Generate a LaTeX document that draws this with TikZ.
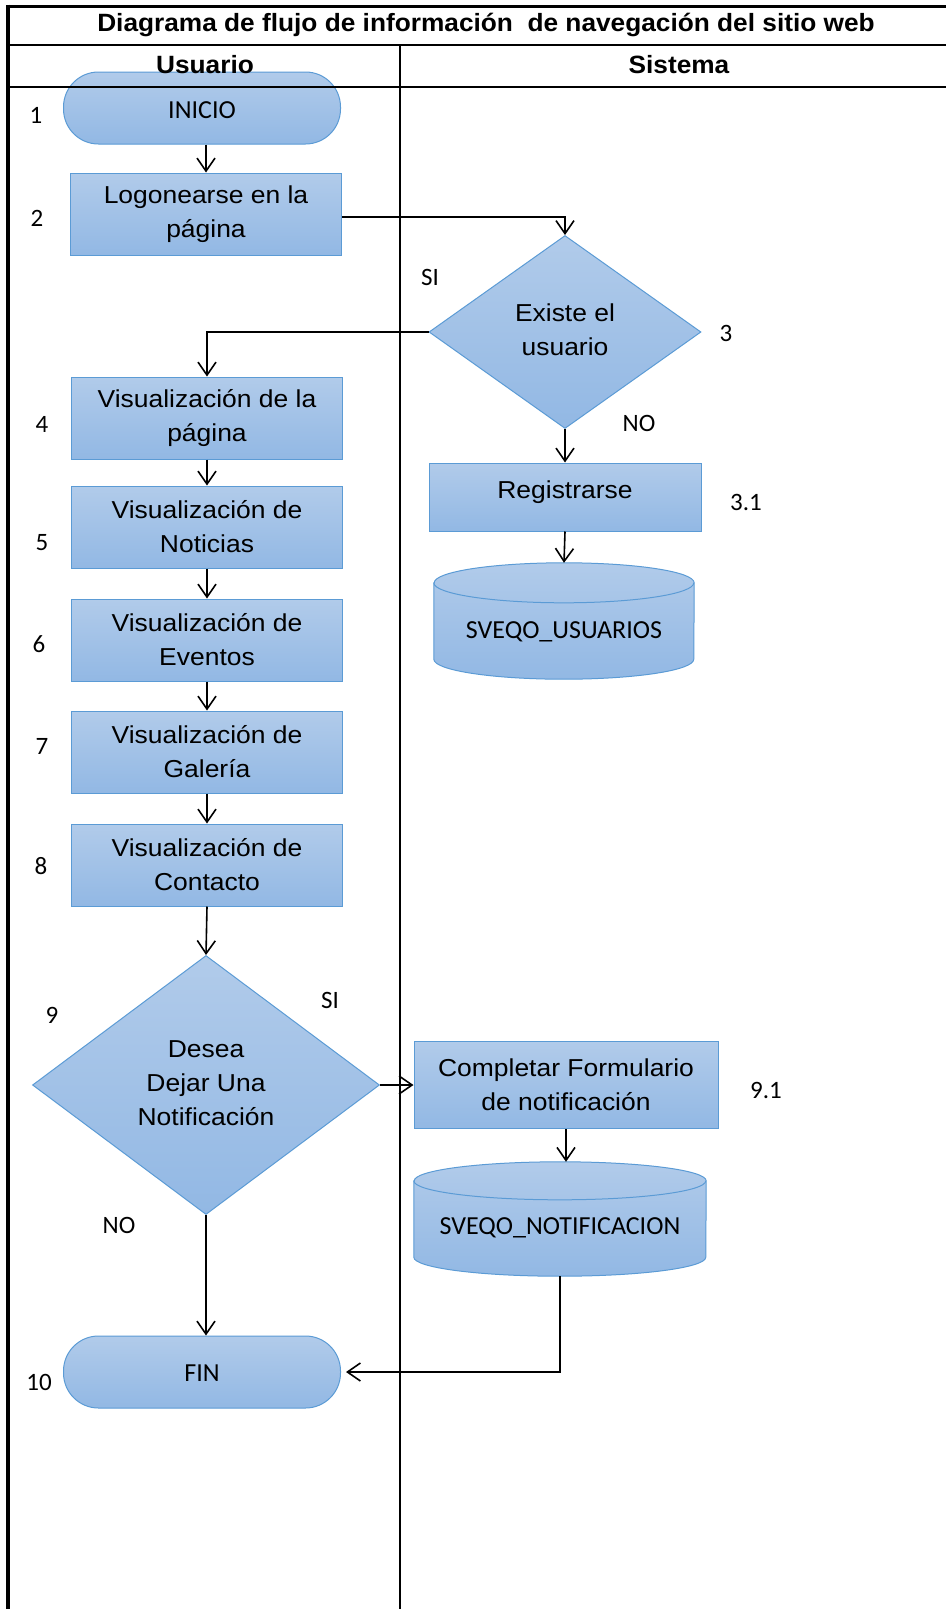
\documentclass[tikz,border=0pt]{standalone}
\usepackage{fontspec}
\usetikzlibrary{arrows.meta,shapes.geometric,calc,backgrounds}
\newfontfamily\arialf[FakeStretch=1.08]{Liberation Sans}
\newfontfamily\titlef[FakeStretch=1.05]{Liberation Sans}
\newfontfamily\calf{Carlito}
\definecolor{topc}{RGB}{177,203,234}
\definecolor{botc}{RGB}{146,184,228}
\definecolor{bordc}{RGB}{91,155,213}
\tikzset{
  proc/.style={draw=bordc, line width=1pt, top color=topc, bottom color=botc,
    minimum width=271pt, minimum height=82pt, align=center, inner sep=0pt,
    font=\arialf\fontsize{24.5}{34}\selectfont},
  term/.style={proc, rounded corners=35pt, minimum width=277pt, minimum height=72pt,
    font=\calf\fontsize{26}{30}\selectfont},
  dec/.style={diamond, draw=bordc, line width=1pt, top color=topc, bottom color=botc,
    inner sep=0pt, font=\arialf\fontsize{24.5}{34}\selectfont},
  dbtext/.style={minimum width=#1, inner sep=0pt, font=\calf\fontsize{26}{30}\selectfont},
  lbl/.style={font=\calf\fontsize{25}{30}\selectfont, inner sep=0pt},
  hdr/.style={font=\titlef\bfseries\fontsize{25}{30}\selectfont, inner sep=0pt},
  conn/.style={line width=1.6pt, -{Straight Barb[length=13pt,width=18pt]}},
  thinconn/.style={line width=1.1pt, -{Straight Barb[length=13pt,width=18pt,line width=1.6pt]}},
  cyl/.style={draw=bordc, line width=1pt, top color=topc, bottom color=botc},
}
\begin{document}
\begin{tikzpicture}[x=1pt,y=1pt]
\useasboundingbox (0,0) rectangle (946,-1609);
\begin{scope}[on background layer]
  \fill[white] (0,0) rectangle (946,-1609);
\end{scope}

% user lane
\node[term] (n1) at (202,-108) {\raisebox{-10.5pt}[0pt][0pt]{INICIO}};
\node[proc] (n2) at (206,-214) {Logonearse en la\\página};
\node[proc] (n4) at (207,-418) {Visualización de la\\página};
\node[proc] (n5) at (207,-527) {Visualización de\\Noticias};
\node[proc] (n6) at (207,-640) {Visualización de\\Eventos};
\node[proc] (n7) at (207,-752) {Visualización de\\Galería};
\node[proc] (n8) at (207,-865) {Visualización de\\Contacto};
\node[dec, aspect=1.34, minimum width=347pt, minimum height=259pt] (n9) at (206,-1085)
  {\raisebox{9pt}{\begin{tabular}{@{}c@{}}Desea\\Dejar Una\\Notificación\end{tabular}}};
\node[term] (n10) at (202,-1372) {\raisebox{-9.5pt}[0pt][0pt]{FIN}};

% system lane
\node[dec, aspect=1.41, minimum width=272pt, minimum height=193pt] (n3) at (565,-332)
  {\raisebox{8pt}{\begin{tabular}{@{}c@{}}Existe el\\usuario\end{tabular}}};
\node[proc, minimum width=272pt, minimum height=68pt] (n31) at (565,-497) {\raisebox{-1pt}[0pt][0pt]{Registrarse}};
\node[dbtext=260pt, minimum height=116pt] (db1) at (564,-621) {};
\node[proc, minimum width=304pt, minimum height=87pt] (n91) at (566,-1085) {Completar Formulario\\de notificación};
\node[dbtext=292pt, minimum height=114pt] (db2) at (560,-1219) {};

% cylinders
\begin{scope}[on background layer]
  \shadedraw[cyl] ($(db1.north west)+(0,-20)$) -- ($(db1.south west)+(0,20)$)
     arc[start angle=180,end angle=360,x radius=130pt,y radius=20pt]
     -- ($(db1.north east)+(0,-20)$)
     arc[start angle=0,end angle=180,x radius=130pt,y radius=20pt] -- cycle;
  \draw[bordc, line width=1pt] ($(db1.north west)+(0,-20)$)
     arc[start angle=180,end angle=360,x radius=130pt,y radius=20pt];
  \shadedraw[cyl] ($(db2.north west)+(0,-19)$) -- ($(db2.south west)+(0,19)$)
     arc[start angle=180,end angle=360,x radius=146pt,y radius=19pt]
     -- ($(db2.north east)+(0,-19)$)
     arc[start angle=0,end angle=180,x radius=146pt,y radius=19pt] -- cycle;
  \draw[bordc, line width=1pt] ($(db2.north west)+(0,-19)$)
     arc[start angle=180,end angle=360,x radius=146pt,y radius=19pt];
\end{scope}
\node[dbtext=260pt] (t1) at ($(db1.center)+(0,-11)$) {SVEQO\_USUARIOS};
\node[dbtext=292pt] (t2) at ($(db2.center)+(0,-9)$) {SVEQO\_NOTIFICACION};

% step labels
\node[lbl] (l1) at (36,-115) {1};
\node[lbl] (l2) at (37,-218) {2};
\node[lbl] (l3) at (726,-333) {3};
\node[lbl] (l31) at (746,-502) {3.1};
\node[lbl] (l4) at (42,-424) {4};
\node[lbl] (l5) at (42,-543) {5};
\node[lbl] (l6) at (39,-644) {6};
\node[lbl] (l7) at (42,-746) {7};
\node[lbl] (l8) at (41,-866) {8};
\node[lbl] (l9) at (52,-1015) {9};
\node[lbl] (l91) at (766,-1090) {9.1};
\node[lbl] (l10) at (39,-1382) {10};
\node[lbl] (si1) at (430,-277) {SI};
\node[lbl] (no1) at (639,-423) {NO};
\node[lbl] (si2) at (330,-1000) {SI};
\node[lbl] (no2) at (119,-1225) {NO};

% connectors
\coordinate (c2) at ($(n2.east)+(0,-3)$);
\draw[conn] (n2.north |- n1.south) -- (n2.north);
\draw[thinconn] (c2) -| (n3.north);
\draw[thinconn] (n3.west) -| (n4.north);
\draw[conn] (n3.south) -- (n31.north);
\draw[conn] (n31.south) -- (db1.north);
\draw[conn] (n4.south) -- (n5.north);
\draw[conn] (n5.south) -- (n6.north);
\draw[conn] (n6.south) -- (n7.north);
\draw[conn] (n7.south) -- (n8.north);
\draw[conn] (n8.south) -- (n9.north);
\draw[conn] (n9.east) -- (n91.west);
\draw[conn] (n91.south) -- (n91.south |- db2.north);
\draw[conn] (n9.south) -- (n9.south |- n10.north);
\draw[conn] (db2.south) |- ($(n10.east)+(5,0)$);

% table
\draw[line width=3pt] (6,-6) -- (946,-6);
\draw[line width=2pt] (6,-45) -- (946,-45);
\draw[line width=2pt] (6,-87) -- (946,-87);
\draw[line width=3.5pt] (8,-4.5) -- (8,-1609);
\draw[line width=2.5pt] (400,-45) -- (400,-1609);
\node[hdr] (title) at (486,-25) {Diagrama de flujo de información\ \ de navegación del sitio web};
\node[hdr] (hu) at (205,-65) {Usuario};
\node[hdr] (hs) at (679,-65) {Sistema};
\end{tikzpicture}
\end{document}
